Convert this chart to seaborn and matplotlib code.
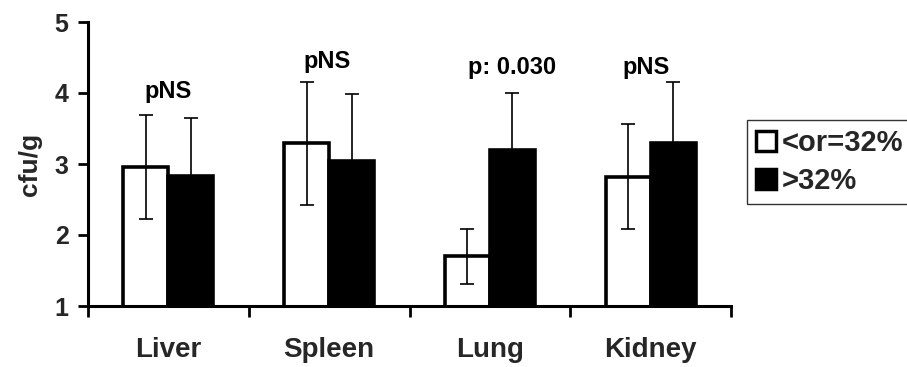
import matplotlib
matplotlib.use("Agg")
import matplotlib.pyplot as plt
from matplotlib.patches import Patch
import seaborn as sns
import pandas as pd
import numpy as np

# ---- data ----
organs = ["Liver", "Spleen", "Lung", "Kidney"]
groups = ["<or=32%", ">32%"]
low_means = [2.96, 3.29, 1.70, 2.82]
low_sd = [0.73, 0.87, 0.39, 0.74]
high_means = [2.83, 3.04, 3.20, 3.30]
high_sd = [0.82, 0.94, 0.80, 0.85]
pvalue_labels = ["pNS", "pNS", "p: 0.030", "pNS"]
yticks = [1, 2, 3, 4, 5]

df = pd.DataFrame({
    "organ": organs * 2,
    "group": [groups[0]] * 4 + [groups[1]] * 4,
    "value": low_means + high_means,
})
sds = {groups[0]: low_sd, groups[1]: high_sd}

sns.set_theme(style="white")
plt.rcParams["font.family"] = ["Liberation Sans", "DejaVu Sans"]
plt.rcParams["font.weight"] = "bold"

fig = plt.figure(figsize=(9.07, 3.67), dpi=100)
ax = fig.add_axes([88 / 907, 1 - 306 / 367, (731 - 88) / 907, (306 - 22) / 367])

palette = {groups[0]: "white", groups[1]: "black"}
sns.barplot(data=df, x="organ", y="value", hue="group", order=organs,
            hue_order=groups, palette=palette, saturation=1, width=0.56,
            edgecolor="black", linewidth=2.6, errorbar=None, legend=False, ax=ax)

for cont, g in zip(ax.containers, groups):
    xs = [b.get_x() + b.get_width() / 2 for b in cont]
    ys = [b.get_height() for b in cont]
    ax.errorbar(xs, ys, yerr=sds[g], fmt="none", ecolor="black",
                elinewidth=1.2, capsize=4.7, capthick=1.2, zorder=5)

# significance annotations (text placement)
label_x = [0.0, 0.99, 2.14, 2.97]
label_y = [4.02, 4.44, 4.36, 4.36]
for lx, ly, t in zip(label_x, label_y, pvalue_labels):
    ax.text(lx, ly, t, ha="center", va="center", fontsize=17,
            fontweight="bold", color="black")

ax.set_xlim(-0.5, 3.5)
ax.set_ylim(1, 5)
ax.set_yticks(yticks)
ax.set_yticklabels([str(v) for v in yticks], fontsize=18, fontweight="bold")
ax.set_xticks(range(len(organs)))
ax.set_xticklabels(organs, fontsize=20, fontweight="bold")
ax.set_xticks(np.arange(-0.5, 4.0, 1.0), minor=True)
ax.tick_params(axis="x", which="major", length=0, pad=22)
ax.tick_params(axis="x", which="minor", length=8, width=2, direction="out",
               color="black", bottom=True)
ax.tick_params(axis="y", length=7, width=2, direction="out", color="black",
               left=True, pad=7)
ax.set_xlabel("")
ax.set_ylabel("cfu/g", fontsize=19, fontweight="bold", labelpad=9)

for s in ["top", "right"]:
    ax.spines[s].set_visible(False)
for s in ["left", "bottom"]:
    ax.spines[s].set_color("black")
    ax.spines[s].set_linewidth(2.2)

handles = [Patch(facecolor=palette[g], edgecolor="black", linewidth=2.5, label=g)
           for g in groups]
leg = fig.legend(handles=handles, loc="upper left",
                 bbox_to_anchor=(747 / 907, 1 - 120 / 367),
                 bbox_transform=fig.transFigure,
                 prop={"size": 21, "weight": "bold"},
                 handlelength=0.68, handleheight=0.68, handletextpad=0.2,
                 labelspacing=0.35, borderpad=0.3, borderaxespad=0,
                 frameon=True, fancybox=False, edgecolor="black")
leg.get_frame().set_linewidth(1.0)

fig.savefig("out.png", dpi=100, facecolor="white")
